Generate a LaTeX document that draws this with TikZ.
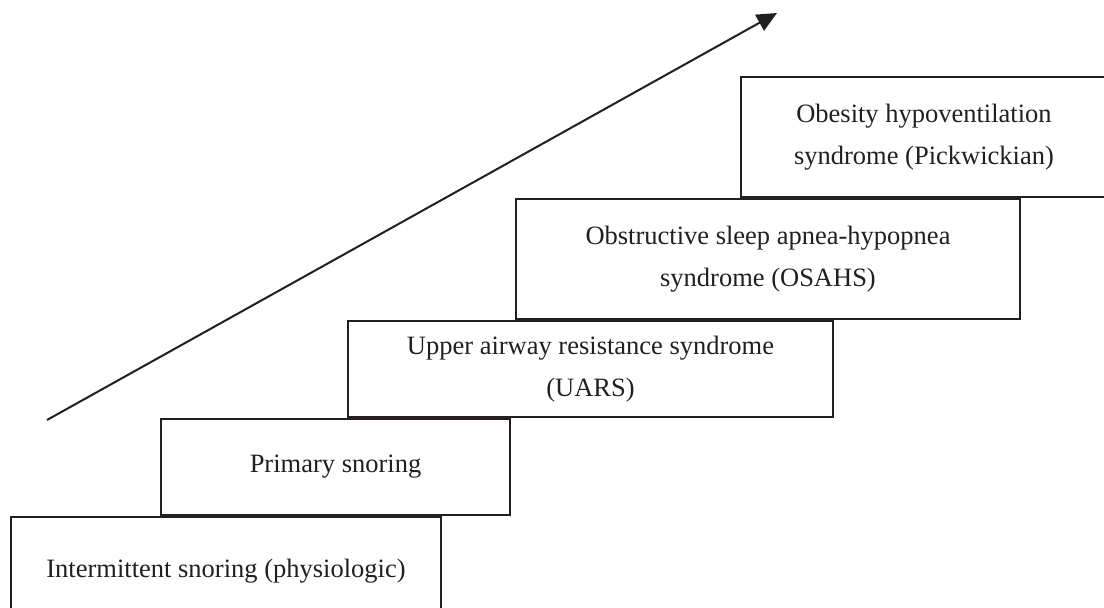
\documentclass[tikz,border=0pt]{standalone}
\usepackage{fontspec}
\setmainfont{Liberation Serif}
\usepackage{xcolor}
\definecolor{ink}{RGB}{35,31,32}
\usetikzlibrary{arrows.meta,positioning}
\tikzset{
  stage/.style={draw=ink, line width=1pt, inner sep=0pt, align=center,
                text=ink, font=\fontsize{13.25}{21}\selectfont},
  rise/.style={draw=ink, line width=1pt,
               -{Triangle[length=10pt,width=9pt]}},
}

\begin{document}
\begin{tikzpicture}[x=0.5pt,y=-0.5pt]
\useasboundingbox (0,0) rectangle (1104,608);
% steps, bottom to top
\node[stage, anchor=north west, minimum width=215pt, minimum height=54pt]
  (intermittent) at (10,516) {Intermittent snoring (physiologic)};
\node[stage, anchor=south west, minimum width=174.5pt, minimum height=48pt]
  (primary) at ([xshift=75pt]intermittent.north west) {Primary snoring};
\node[stage, anchor=south west, minimum width=242.5pt, minimum height=48pt]
  (uars) at ([xshift=93.5pt]primary.north west)
  {Upper airway resistance syndrome\\(UARS)};
\node[stage, anchor=south west, minimum width=252pt, minimum height=60pt]
  (osahs) at ([xshift=84pt]uars.north west)
  {Obstructive sleep apnea-hypopnea\\syndrome (OSAHS)};
\node[stage, anchor=south west, minimum width=183pt, minimum height=60pt]
  (obesity) at ([xshift=112.5pt]osahs.north west)
  {Obesity hypoventilation\\syndrome (Pickwickian)};
% severity arrow
\coordinate (rise start) at (47,420);
\coordinate (rise end) at (777,13);
\draw[rise] (rise start) -- (rise end);
\end{tikzpicture}
\end{document}
